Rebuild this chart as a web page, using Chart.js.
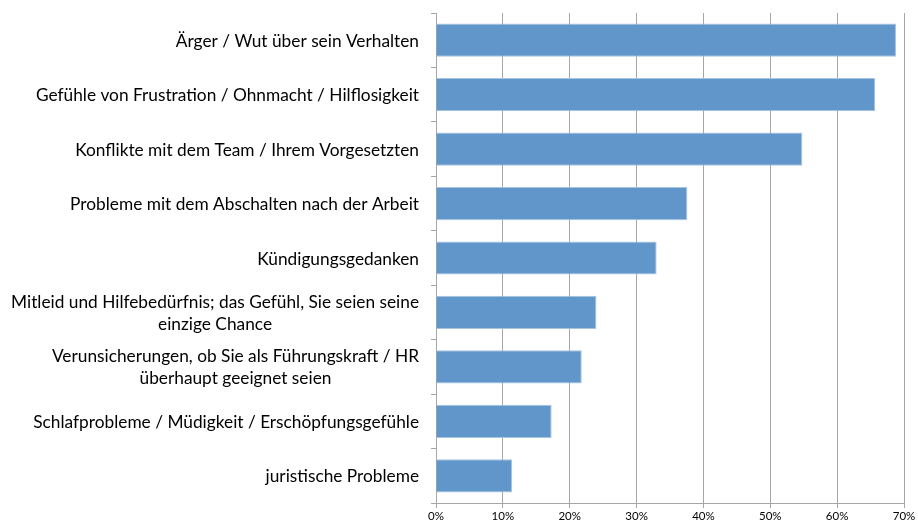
<!DOCTYPE html>
<html>
<head>
<meta charset="utf-8">
<script src="https://cdn.jsdelivr.net/npm/chart.js@4.4.0/dist/chart.umd.min.js"></script>
<style>
  html, body { margin: 0; padding: 0; background: #fff; }
  #wrap { width: 918px; height: 524px; }
</style>
</head>
<body>
<div id="wrap"><canvas id="barChart" width="918" height="524"></canvas></div>
<script>
// categories (multi-line ones as arrays)
const categories = [
  ['Ärger / Wut über sein Verhalten'],
  ['Gefühle von Frustration / Ohnmacht / Hilflosigkeit'],
  ['Konflikte mit dem Team / Ihrem Vorgesetzten'],
  ['Probleme mit dem Abschalten nach der Arbeit'],
  ['Kündigungsgedanken'],
  ['Mitleid und Hilfebedürfnis; das Gefühl, Sie seien seine', 'einzige Chance'],
  ['Verunsicherungen, ob Sie als Führungskraft / HR', 'überhaupt geeignet seien'],
  ['Schlafprobleme / Müdigkeit / Erschöpfungsgefühle'],
  ['juristische Probleme']
];
// share of answers in percent
const values = [68.8, 65.7, 54.8, 37.6, 33.0, 24.0, 21.8, 17.3, 11.4];
const xMax = 70;
const xStep = 10;

const labelFont = '17.3px Lato, "Open Sans", sans-serif';

// draws the y labels right-aligned as a block, lines centered to each other
const yLabels = {
  id: 'yLabels',
  afterDraw(chart) {
    const ctx = chart.ctx;
    const y = chart.scales.y;
    const right = y.right - 17;
    const lineH = 22;
    ctx.save();
    ctx.font = labelFont;
    ctx.fillStyle = '#000';
    ctx.textAlign = 'center';
    ctx.textBaseline = 'middle';
    categories.forEach((lines, i) => {
      const cy = y.getPixelForTick(i) + 1;
      const w = Math.max(...lines.map((l) => ctx.measureText(l).width));
      const cx = right - w / 2;
      const y0 = cy - ((lines.length - 1) * lineH) / 2;
      lines.forEach((l, k) => ctx.fillText(l, cx, y0 + k * lineH));
    });
    ctx.restore();
  },
};

const ctx = document.querySelector('#barChart').getContext('2d');
new Chart(ctx, {
  type: 'bar',
  data: {
    labels: categories,
    datasets: [
      {
        data: values,
        backgroundColor: '#6096c9',
        borderColor: '#a7c3e2',
        borderWidth: 1,
        categoryPercentage: 1,
        barPercentage: 0.61,
      },
    ],
  },
  options: {
    indexAxis: 'y',
    responsive: false,
    animation: false,
    layout: { padding: { top: 13, right: 14, left: 0, bottom: 0 } },
    plugins: {
      legend: { display: false },
      tooltip: { enabled: false },
    },
    scales: {
      x: {
        min: 0,
        max: xMax,
        afterFit(scale) { scale.height = 21; },
        grid: {
          color: '#a6a6a6',
          lineWidth: 1,
          tickLength: 5,
        },
        border: { color: '#a6a6a6' },
        ticks: {
          stepSize: xStep,
          padding: 1,
          color: '#000',
          font: { family: 'Lato, "Open Sans", sans-serif', size: 11.5 },
          callback: (v) => v + '%',
        },
      },
      y: {
        afterFit(scale) { scale.width = 436; },
        grid: {
          drawOnChartArea: false,
          color: '#a6a6a6',
          tickLength: 5,
        },
        border: { color: '#a6a6a6' },
        ticks: { display: false },
      },
    },
  },
  plugins: [yLabels],
});
</script>
</body>
</html>
